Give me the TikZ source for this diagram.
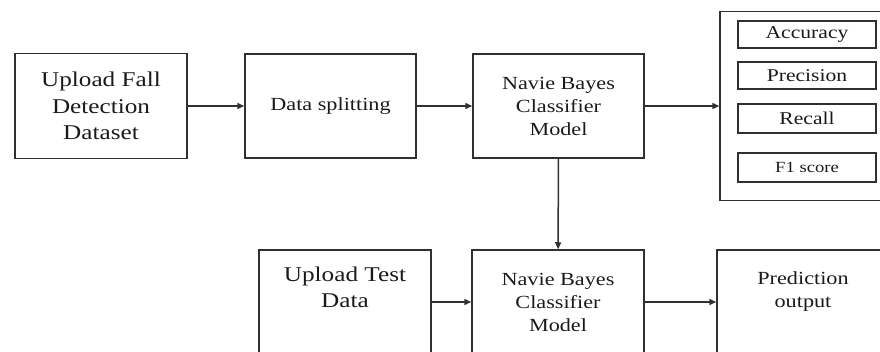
\documentclass[tikz,border=0pt]{standalone}
\usepackage{fontspec}
\setmainfont{Liberation Serif}[FakeStretch=1.2]
\usetikzlibrary{arrows.meta}
\definecolor{edge}{HTML}{303030}
\definecolor{txt}{HTML}{1a1a1a}
\begin{document}
\begin{tikzpicture}[x=1pt,y=-1pt,
  box/.style={draw=edge,line width=1.5pt,rectangle,inner sep=0pt,text=txt,align=center},
  inbox/.style={draw=edge,line width=1.2pt,rectangle,inner sep=0pt,text=txt,align=center},
  arr/.style={draw=edge,line width=1.5pt,-{Triangle[length=7pt,width=6pt]}},
  big/.style={font=\fontsize{21}{26.5}\selectfont},
  mid/.style={font=\fontsize{18.5}{23}\selectfont},
  sml/.style={font=\fontsize{18}{22}\selectfont},
  tiny/.style={font=\fontsize{15.5}{19}\selectfont}]
\useasboundingbox (0,0) rectangle (880,352);
\clip (0,0) rectangle (880,352);
% top row
\node[box,big,minimum width=172pt,minimum height=105pt] (upload) at (101,106) {Upload Fall\\Detection\\Dataset};
\node[box,mid,minimum width=171pt,minimum height=104pt] (split) at (330.5,106) {Data splitting};
\node[box,mid,minimum width=171pt,minimum height=104pt] (nb1) at (558.5,106) {Navie Bayes\\Classifier\\Model};
% metrics
\node[box,minimum width=200pt,minimum height=189pt] (metrics) at (820,106) {};
\node[inbox,sml,minimum width=138pt,minimum height=27pt] (acc) at (807,34.5) {Accuracy};
\node[inbox,sml,minimum width=138pt,minimum height=27pt] (prec) at (807,75.5) {Precision};
\node[inbox,sml,minimum width=138pt,minimum height=29pt] (rec) at (807,118.5) {Recall};
\node[inbox,tiny,minimum width=138pt,minimum height=29pt] (f1) at (807,167.5) {F1 score};
% bottom row
\node[box,minimum width=172pt,minimum height=104pt] (test) at (345,302) {};
\node[text=txt,big,align=center,anchor=north] (testtxt) at (345,263) {Upload Test\\Data};
\node[box,mid,minimum width=172pt,minimum height=104pt] (nb2) at (558,302) {Navie Bayes\\Classifier\\Model};
\node[box,minimum width=172pt,minimum height=104pt] (pred) at (803,302) {};
\node[text=txt,mid,align=center,anchor=north] (predtxt) at (803,268) {Prediction\\output};
% arrows
\draw[arr] (upload) -- (split);
\draw[arr] (split) -- (nb1);
\draw[arr] (nb1) -- (metrics);
\draw[arr] (nb1) -- (nb2);
\draw[arr] (test) -- (nb2);
\draw[arr] (nb2) -- (pred);
\end{tikzpicture}
\end{document}
